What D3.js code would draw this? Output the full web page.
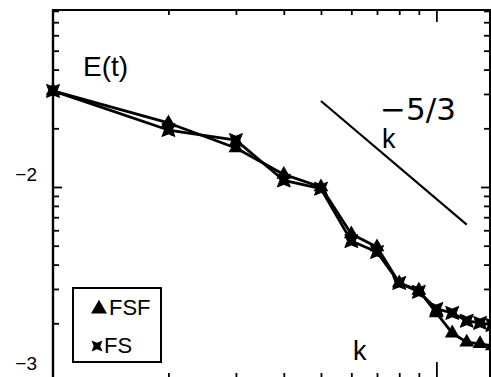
<!DOCTYPE html>
<html>
<head>
<meta charset="utf-8">
<script src="https://cdn.jsdelivr.net/npm/d3@7"></script>
<style>
  body { margin: 0; background: #fff; }
  text { font-family: "Liberation Sans", Arial, sans-serif; fill: #000; }
</style>
</head>
<body>
<div id="chart"></div>
<script>
const W = 491, H = 377;

// wavenumbers and spectra
const kVals = [1, 2, 3, 4, 5, 6, 7, 8, 9, 10, 11, 12, 13, 14];
const fsf = [0.0311, 0.0213, 0.01585, 0.0116, 0.0100, 0.00574, 0.00492, 0.00322, 0.00295, 0.00226, 0.00178, 0.00160, 0.00157, 0.00153];
const fs  = [0.0311, 0.0196, 0.0174, 0.0108, 0.0098, 0.00528, 0.00464, 0.00322, 0.00290, 0.00237, 0.00226, 0.00206, 0.00201, 0.00196];
const slopeK = [5, 12];
const slopeE0 = 0.0276;
const yLabels = [{v: 1e-2, t: "\u22122"}, {v: 1e-3, t: "\u22123"}];

const x = d3.scaleLog().domain([1, 13.8]).range([53, 490]);
const y = d3.scaleLog().domain([1e-3, 1e-1]).range([382, -8]);
const yTop = 10, yBot = y(1e-3);

const svg = d3.select("#chart").append("svg")
  .attr("width", W).attr("height", H);
svg.append("rect").attr("width", W).attr("height", H).attr("fill", "#fff");

// tick values
const yMinor = [], yMajor = [1e-3, 1e-2];
for (const d of [1e-3, 1e-2]) for (let i = 2; i <= 9; i++) if (y(i * d) > yTop) yMinor.push(i * d);
const xMinor = d3.range(2, 10), xMajor = [10];

function ax(gen, scale, vals, size, tx, ty) {
  const g = svg.append("g").attr("transform", `translate(${tx},${ty})`)
    .call(gen(scale).tickValues(vals).tickSize(size).tickFormat(""));
  g.select(".domain").remove();
  g.selectAll("line").attr("stroke", "#000").attr("stroke-width", 1.8);
  return g;
}
ax(d3.axisLeft, y, yMinor, -6, 53, 0);
ax(d3.axisLeft, y, yMajor, -9, 53, 0);
ax(d3.axisRight, y, yMinor, -6, 490, 0);
ax(d3.axisRight, y, yMajor, -9, 490, 0);
ax(d3.axisTop, x, xMinor, -5, 0, yTop);
ax(d3.axisTop, x, xMajor, -12, 0, yTop);
ax(d3.axisBottom, x, xMinor, -9, 0, yBot);
ax(d3.axisBottom, x, xMajor, -20, 0, yBot);

// frame
svg.append("path")
  .attr("d", `M53,${yBot}V${yTop}H490V${yBot}`)
  .attr("fill", "none").attr("stroke", "#000").attr("stroke-width", 2);
svg.append("line").attr("x1", 53).attr("x2", 53).attr("y1", yTop).attr("y2", yBot)
  .attr("stroke", "#000").attr("stroke-width", 2.4);

yLabels.forEach(d => {
  svg.append("text")
    .attr("x", 37).attr("y", Math.min(y(d.v) - 6, 370))
    .attr("text-anchor", "end").attr("font-size", 19)
    .text(d.t);
});

// slope line
svg.append("line")
  .attr("x1", x(slopeK[0])).attr("y1", y(slopeE0))
  .attr("x2", x(slopeK[1])).attr("y2", y(slopeE0 * Math.pow(slopeK[1] / slopeK[0], -5 / 3)))
  .attr("stroke", "#000").attr("stroke-width", 2.2);

const line = d3.line().x((d, i) => x(kVals[i])).y(d => y(d));
[fsf, fs].forEach(s => {
  svg.append("path").datum(s).attr("d", line)
    .attr("fill", "none").attr("stroke", "#000").attr("stroke-width", 2.8)
    .attr("stroke-linejoin", "round");
});

const tri = d3.symbol(d3.symbolTriangle).size(95);
function star(r) {
  const a = r * 0.6;
  return `M${-r},${-r}L0,${-a}L${r},${-r}L${a},0L${r},${r}L0,${a}L${-r},${r}L${-a},0Z`;
}

svg.append("g").selectAll("path").data(fsf).join("path")
  .attr("transform", (d, i) => `translate(${x(kVals[i])},${y(d)})`)
  .attr("d", tri()).attr("fill", "#000");
svg.append("g").selectAll("path").data(fs).join("path")
  .attr("transform", (d, i) => `translate(${x(kVals[i])},${y(d)})`)
  .attr("d", star(6.5)).attr("fill", "#000").attr("stroke", "#000").attr("stroke-width", 1);

// text
svg.append("text").attr("x", 83).attr("y", 76).attr("font-size", 28).text("E(t)");
svg.append("text").attr("x", 380).attr("y", 120).attr("font-size", 31)
  .style("font-family", "'DejaVu Sans', sans-serif").text("\u22125/3");
svg.append("text").attr("x", 382).attr("y", 148).attr("font-size", 27).text("k");
svg.append("text").attr("x", 353).attr("y", 360).attr("font-size", 27).text("k");

// legend
const lg = svg.append("g");
lg.append("rect").attr("x", 73).attr("y", 288).attr("width", 88).attr("height", 74)
  .attr("fill", "#fff").attr("stroke", "#000").attr("stroke-width", 2);
lg.append("path").attr("transform", "translate(99,309)")
  .attr("d", d3.symbol(d3.symbolTriangle).size(110)()).attr("fill", "#000");
lg.append("text").attr("x", 109).attr("y", 315).attr("font-size", 22).text("FSF");
lg.append("path").attr("transform", "translate(97,346)")
  .attr("d", star(5.5)).attr("fill", "#000");
lg.append("text").attr("x", 104).attr("y", 353).attr("font-size", 22).text("FS");
</script>
</body>
</html>
